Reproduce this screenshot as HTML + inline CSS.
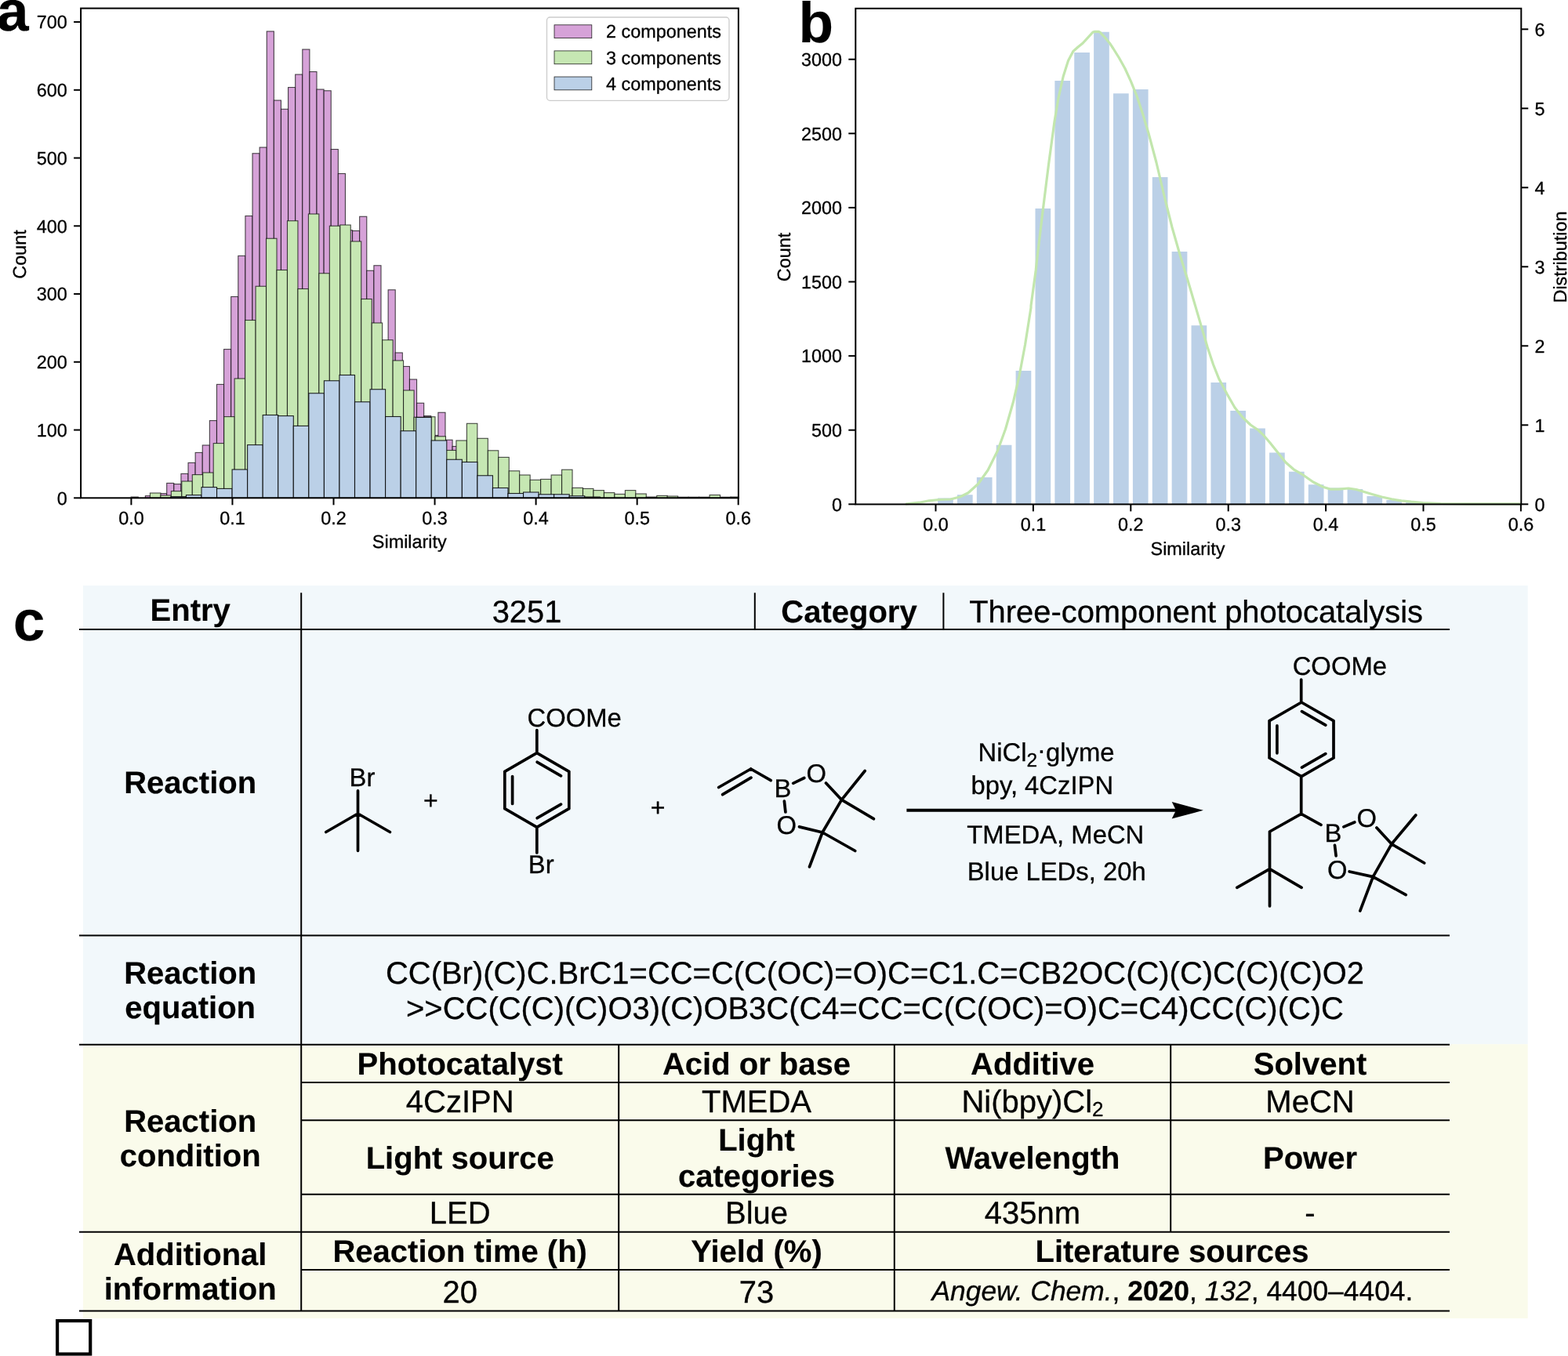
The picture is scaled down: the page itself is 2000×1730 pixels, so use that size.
<!DOCTYPE html>
<html><head><meta charset="utf-8"><title>Figure</title>
<style>
html,body{margin:0;padding:0;background:#fff;}
svg{display:block;font-family:"Liberation Sans", sans-serif;}
text{fill:#000;text-rendering:geometricPrecision;stroke:#000;stroke-width:0.3px;stroke-linejoin:round;}
text.b{font-weight:bold;stroke-width:0.15px;}
.pl text{font-weight:bold;stroke-width:0.1px;}
tspan.b{font-weight:bold;}
tspan.i{font-style:italic;}
</style></head>
<body>
<svg width="2000" height="1730" viewBox="0 0 2000 1730">
<rect width="2000" height="1730" fill="#fff"/>
<g id="panelA">
<g fill="#D6A2D8" stroke="#000" stroke-width="1.1" stroke-opacity="0.7"><rect x="167.15" y="634.00" width="9.11" height="1.30"/><rect x="185.37" y="632.60" width="9.11" height="2.70"/><rect x="194.48" y="632.00" width="9.11" height="3.30"/><rect x="203.59" y="629.60" width="9.11" height="5.70"/><rect x="212.70" y="616.40" width="9.11" height="18.90"/><rect x="221.81" y="617.60" width="9.11" height="17.70"/><rect x="230.92" y="604.40" width="9.11" height="30.90"/><rect x="240.03" y="590.40" width="9.11" height="44.90"/><rect x="249.14" y="577.40" width="9.11" height="57.90"/><rect x="258.25" y="568.00" width="9.11" height="67.30"/><rect x="267.36" y="536.60" width="9.11" height="98.70"/><rect x="276.47" y="490.40" width="9.11" height="144.90"/><rect x="285.58" y="445.60" width="9.11" height="189.70"/><rect x="294.69" y="378.50" width="9.11" height="256.80"/><rect x="303.80" y="326.40" width="9.11" height="308.90"/><rect x="312.91" y="275.50" width="9.11" height="359.80"/><rect x="322.02" y="195.75" width="9.11" height="439.55"/><rect x="331.13" y="188.00" width="9.11" height="447.30"/><rect x="340.24" y="40.00" width="9.11" height="595.30"/><rect x="349.35" y="128.00" width="9.11" height="507.30"/><rect x="358.46" y="139.25" width="9.11" height="496.05"/><rect x="367.57" y="111.50" width="9.11" height="523.80"/><rect x="376.68" y="95.00" width="9.11" height="540.30"/><rect x="385.79" y="63.00" width="9.11" height="572.30"/><rect x="394.90" y="91.50" width="9.11" height="543.80"/><rect x="404.01" y="114.00" width="9.11" height="521.30"/><rect x="413.12" y="115.75" width="9.11" height="519.55"/><rect x="422.23" y="190.50" width="9.11" height="444.80"/><rect x="431.34" y="221.50" width="9.11" height="413.80"/><rect x="440.45" y="293.75" width="9.11" height="341.55"/><rect x="449.56" y="294.50" width="9.11" height="340.80"/><rect x="458.67" y="276.25" width="9.11" height="359.05"/><rect x="467.78" y="345.25" width="9.11" height="290.05"/><rect x="476.89" y="338.75" width="9.11" height="296.55"/><rect x="486.00" y="440.00" width="9.11" height="195.30"/><rect x="495.11" y="369.80" width="9.11" height="265.50"/><rect x="504.22" y="450.00" width="9.11" height="185.30"/><rect x="513.33" y="467.50" width="9.11" height="167.80"/><rect x="522.44" y="484.00" width="9.11" height="151.30"/><rect x="531.55" y="514.25" width="9.11" height="121.05"/><rect x="540.66" y="530.60" width="9.11" height="104.70"/><rect x="549.77" y="555.40" width="9.11" height="79.90"/><rect x="558.88" y="526.25" width="9.11" height="109.05"/><rect x="567.99" y="561.25" width="9.11" height="74.05"/><rect x="577.10" y="569.50" width="9.11" height="65.80"/></g><g fill="#C6E7B3" stroke="#000" stroke-width="1.1" stroke-opacity="0.7"><rect x="191.43" y="629.00" width="13.47" height="6.30"/><rect x="204.90" y="632.00" width="13.47" height="3.30"/><rect x="218.36" y="626.60" width="13.47" height="8.70"/><rect x="231.82" y="614.00" width="13.47" height="21.30"/><rect x="245.29" y="605.60" width="13.46" height="29.70"/><rect x="258.75" y="603.00" width="13.46" height="32.30"/><rect x="272.22" y="565.60" width="13.46" height="69.70"/><rect x="285.69" y="531.60" width="13.46" height="103.70"/><rect x="299.15" y="483.00" width="13.46" height="152.30"/><rect x="312.62" y="408.50" width="13.46" height="226.80"/><rect x="326.08" y="365.25" width="13.46" height="270.05"/><rect x="339.55" y="304.25" width="13.46" height="331.05"/><rect x="353.01" y="344.50" width="13.46" height="290.80"/><rect x="366.48" y="281.75" width="13.46" height="353.55"/><rect x="379.94" y="368.50" width="13.46" height="266.80"/><rect x="393.40" y="273.00" width="13.46" height="362.30"/><rect x="406.87" y="348.75" width="13.46" height="286.55"/><rect x="420.34" y="288.25" width="13.46" height="347.05"/><rect x="433.80" y="287.00" width="13.46" height="348.30"/><rect x="447.26" y="308.00" width="13.46" height="327.30"/><rect x="460.73" y="381.50" width="13.46" height="253.80"/><rect x="474.19" y="412.00" width="13.46" height="223.30"/><rect x="487.66" y="433.75" width="13.46" height="201.55"/><rect x="501.12" y="460.00" width="13.47" height="175.30"/><rect x="514.59" y="498.00" width="13.47" height="137.30"/><rect x="528.06" y="532.30" width="13.47" height="103.00"/><rect x="541.52" y="531.75" width="13.47" height="103.55"/><rect x="554.99" y="556.75" width="13.47" height="78.55"/><rect x="568.45" y="574.50" width="13.47" height="60.80"/><rect x="581.91" y="562.00" width="13.47" height="73.30"/><rect x="595.38" y="540.30" width="13.47" height="95.00"/><rect x="608.85" y="559.30" width="13.47" height="76.00"/><rect x="622.31" y="574.80" width="13.47" height="60.50"/><rect x="635.77" y="583.40" width="13.47" height="51.90"/><rect x="649.24" y="600.80" width="13.47" height="34.50"/><rect x="662.70" y="606.00" width="13.47" height="29.30"/><rect x="676.17" y="612.30" width="13.47" height="23.00"/><rect x="689.63" y="611.40" width="13.47" height="23.90"/><rect x="703.10" y="606.00" width="13.47" height="29.30"/><rect x="716.57" y="599.20" width="13.47" height="36.10"/><rect x="730.03" y="622.40" width="13.47" height="12.90"/><rect x="743.49" y="623.40" width="13.47" height="11.90"/><rect x="756.96" y="625.60" width="13.47" height="9.70"/><rect x="770.42" y="628.60" width="13.47" height="6.70"/><rect x="783.89" y="630.40" width="13.47" height="4.90"/><rect x="797.36" y="625.60" width="13.47" height="9.70"/><rect x="810.82" y="630.00" width="13.47" height="5.30"/><rect x="824.29" y="634.00" width="13.47" height="1.30"/><rect x="837.75" y="632.40" width="13.47" height="2.90"/><rect x="851.21" y="633.00" width="13.47" height="2.30"/><rect x="864.68" y="634.20" width="13.47" height="1.10"/><rect x="878.14" y="634.20" width="13.47" height="1.10"/><rect x="891.61" y="634.20" width="13.47" height="1.10"/><rect x="905.08" y="631.50" width="13.47" height="3.80"/><rect x="918.54" y="634.20" width="13.47" height="1.10"/><rect x="932.01" y="634.00" width="9.89" height="1.30"/></g><g fill="#BBD0E7" stroke="#000" stroke-width="1.1" stroke-opacity="0.85"><rect x="217.90" y="633.60" width="19.55" height="1.70"/><rect x="237.45" y="631.60" width="19.55" height="3.70"/><rect x="257.00" y="621.60" width="19.55" height="13.70"/><rect x="276.55" y="623.40" width="19.55" height="11.90"/><rect x="296.10" y="599.00" width="19.55" height="36.30"/><rect x="315.65" y="567.60" width="19.55" height="67.70"/><rect x="335.20" y="529.50" width="19.55" height="105.80"/><rect x="354.75" y="530.60" width="19.55" height="104.70"/><rect x="374.30" y="543.40" width="19.55" height="91.90"/><rect x="393.85" y="501.75" width="19.55" height="133.55"/><rect x="413.40" y="485.75" width="19.55" height="149.55"/><rect x="432.95" y="478.50" width="19.55" height="156.80"/><rect x="452.50" y="512.75" width="19.55" height="122.55"/><rect x="472.05" y="496.75" width="19.55" height="138.55"/><rect x="491.60" y="531.50" width="19.55" height="103.80"/><rect x="511.15" y="549.75" width="19.55" height="85.55"/><rect x="530.70" y="532.50" width="19.55" height="102.80"/><rect x="550.25" y="562.00" width="19.55" height="73.30"/><rect x="569.80" y="586.25" width="19.55" height="49.05"/><rect x="589.35" y="589.50" width="19.55" height="45.80"/><rect x="608.90" y="606.75" width="19.55" height="28.55"/><rect x="628.45" y="622.50" width="19.55" height="12.80"/><rect x="648.00" y="629.50" width="19.55" height="5.80"/><rect x="667.55" y="628.00" width="19.55" height="7.30"/><rect x="687.10" y="630.75" width="19.55" height="4.55"/><rect x="706.65" y="630.75" width="19.55" height="4.55"/><rect x="726.20" y="632.75" width="19.55" height="2.55"/><rect x="745.75" y="634.00" width="19.55" height="1.30"/></g>
<rect x="103.1" y="10.6" width="838.8" height="624.6999999999999" fill="none" stroke="#000" stroke-width="2"/>
<line x1="94.1" y1="635.3" x2="103.1" y2="635.3" stroke="#000" stroke-width="2"/>
<text x="85.8" y="643.6" font-size="23.4" text-anchor="end">0</text>
<line x1="94.1" y1="548.55" x2="103.1" y2="548.55" stroke="#000" stroke-width="2"/>
<text x="85.8" y="556.9" font-size="23.4" text-anchor="end">100</text>
<line x1="94.1" y1="461.79999999999995" x2="103.1" y2="461.79999999999995" stroke="#000" stroke-width="2"/>
<text x="85.8" y="470.1" font-size="23.4" text-anchor="end">200</text>
<line x1="94.1" y1="375.04999999999995" x2="103.1" y2="375.04999999999995" stroke="#000" stroke-width="2"/>
<text x="85.8" y="383.4" font-size="23.4" text-anchor="end">300</text>
<line x1="94.1" y1="288.29999999999995" x2="103.1" y2="288.29999999999995" stroke="#000" stroke-width="2"/>
<text x="85.8" y="296.6" font-size="23.4" text-anchor="end">400</text>
<line x1="94.1" y1="201.54999999999995" x2="103.1" y2="201.54999999999995" stroke="#000" stroke-width="2"/>
<text x="85.8" y="209.9" font-size="23.4" text-anchor="end">500</text>
<line x1="94.1" y1="114.79999999999995" x2="103.1" y2="114.79999999999995" stroke="#000" stroke-width="2"/>
<text x="85.8" y="123.1" font-size="23.4" text-anchor="end">600</text>
<line x1="94.1" y1="28.049999999999955" x2="103.1" y2="28.049999999999955" stroke="#000" stroke-width="2"/>
<text x="85.8" y="36.4" font-size="23.4" text-anchor="end">700</text>
<line x1="167.40" y1="635.3" x2="167.40" y2="644.3" stroke="#000" stroke-width="2"/>
<text x="167.40" y="668.5" font-size="23.4" text-anchor="middle">0.0</text>
<line x1="296.45" y1="635.3" x2="296.45" y2="644.3" stroke="#000" stroke-width="2"/>
<text x="296.45" y="668.5" font-size="23.4" text-anchor="middle">0.1</text>
<line x1="425.50" y1="635.3" x2="425.50" y2="644.3" stroke="#000" stroke-width="2"/>
<text x="425.50" y="668.5" font-size="23.4" text-anchor="middle">0.2</text>
<line x1="554.55" y1="635.3" x2="554.55" y2="644.3" stroke="#000" stroke-width="2"/>
<text x="554.55" y="668.5" font-size="23.4" text-anchor="middle">0.3</text>
<line x1="683.60" y1="635.3" x2="683.60" y2="644.3" stroke="#000" stroke-width="2"/>
<text x="683.60" y="668.5" font-size="23.4" text-anchor="middle">0.4</text>
<line x1="812.65" y1="635.3" x2="812.65" y2="644.3" stroke="#000" stroke-width="2"/>
<text x="812.65" y="668.5" font-size="23.4" text-anchor="middle">0.5</text>
<line x1="941.70" y1="635.3" x2="941.70" y2="644.3" stroke="#000" stroke-width="2"/>
<text x="941.70" y="668.5" font-size="23.4" text-anchor="middle">0.6</text>
<text x="522.3" y="699.3" font-size="23.4" text-anchor="middle">Similarity</text>
<text transform="translate(33.3,324.5) rotate(-90)" font-size="23.4" text-anchor="middle">Count</text>
<rect x="697.5" y="22" width="232.5" height="106.3" rx="4" ry="4" fill="#fff" fill-opacity="0.8" stroke="#ccc" stroke-width="1.3"/>
<rect x="707" y="31.8" width="47.8" height="16.8" fill="#D6A2D8" stroke="#000" stroke-width="0.8" stroke-opacity="0.85"/>
<text x="773" y="48.4" font-size="23.4">2 components</text>
<rect x="707" y="64.9" width="47.8" height="16.8" fill="#C6E7B3" stroke="#000" stroke-width="0.8" stroke-opacity="0.85"/>
<text x="773" y="81.5" font-size="23.4">3 components</text>
<rect x="707" y="98.0" width="47.8" height="16.8" fill="#BBD0E7" stroke="#000" stroke-width="0.8" stroke-opacity="0.85"/>
<text x="773" y="114.6" font-size="23.4">4 components</text>
</g>
<g id="panelB">
<g fill="#BBD0E7"><rect x="1196.09" y="635.50" width="19.7" height="7.90"/><rect x="1220.97" y="631.25" width="19.7" height="12.15"/><rect x="1245.85" y="609.00" width="19.7" height="34.40"/><rect x="1270.73" y="567.75" width="19.7" height="75.65"/><rect x="1295.61" y="473.00" width="19.7" height="170.40"/><rect x="1320.49" y="266.00" width="19.7" height="377.40"/><rect x="1345.37" y="103.00" width="19.7" height="540.40"/><rect x="1370.25" y="67.00" width="19.7" height="576.40"/><rect x="1395.13" y="40.75" width="19.7" height="602.65"/><rect x="1420.01" y="119.25" width="19.7" height="524.15"/><rect x="1444.89" y="114.00" width="19.7" height="529.40"/><rect x="1469.77" y="226.00" width="19.7" height="417.40"/><rect x="1494.65" y="321.00" width="19.7" height="322.40"/><rect x="1519.53" y="415.20" width="19.7" height="228.20"/><rect x="1544.41" y="488.00" width="19.7" height="155.40"/><rect x="1569.29" y="524.00" width="19.7" height="119.40"/><rect x="1594.17" y="546.50" width="19.7" height="96.90"/><rect x="1619.05" y="577.50" width="19.7" height="65.90"/><rect x="1643.93" y="601.75" width="19.7" height="41.65"/><rect x="1668.81" y="618.25" width="19.7" height="25.15"/><rect x="1693.69" y="622.50" width="19.7" height="20.90"/><rect x="1718.57" y="624.00" width="19.7" height="19.40"/><rect x="1743.45" y="633.00" width="19.7" height="10.40"/><rect x="1768.33" y="638.00" width="19.7" height="5.40"/><rect x="1793.21" y="640.50" width="19.7" height="2.90"/><rect x="1818.09" y="641.75" width="19.7" height="1.65"/><rect x="1842.97" y="642.40" width="19.7" height="1.00"/><rect x="1867.85" y="642.70" width="19.7" height="0.70"/></g>
<path d="M1155.0,643.0 L1172.5,641.2 L1185.0,638.8 L1197.5,637.5 L1212.5,637.0 L1225.0,633.8 L1235.0,628.8 L1247.5,617.5 L1260.0,600.0 L1272.5,575.0 L1282.5,547.5 L1292.5,512.5 L1300.0,480.0 L1307.5,440.0 L1315.0,392.5 L1315.0,390.0 L1321.2,345.0 L1322.5,332.5 L1330.0,270.0 L1337.5,210.0 L1345.0,155.0 L1350.0,125.0 L1356.2,97.5 L1362.5,77.5 L1368.8,65.5 L1375.0,60.0 L1381.2,55.0 L1387.5,48.2 L1394.0,41.0 L1395.8,40.4 L1401.5,40.4 L1403.0,41.2 L1407.5,45.8 L1412.0,50.9 L1415.5,55.2 L1420.0,62.0 L1427.5,74.0 L1435.0,87.5 L1442.5,103.8 L1450.0,122.5 L1457.5,145.0 L1465.0,170.0 L1475.0,207.5 L1485.0,250.0 L1495.0,290.0 L1505.0,325.0 L1515.0,357.5 L1540.0,442.5 L1547.5,465.0 L1555.0,483.8 L1565.0,502.5 L1575.0,520.0 L1585.0,532.5 L1595.0,542.0 L1605.0,548.8 L1612.5,556.2 L1620.0,565.0 L1630.0,577.5 L1640.0,590.0 L1650.0,598.8 L1662.5,606.2 L1675.0,615.0 L1687.5,621.2 L1697.5,624.2 L1707.5,624.2 L1720.0,623.0 L1730.0,624.5 L1740.0,627.5 L1750.0,630.5 L1762.5,634.0 L1775.0,636.8 L1787.5,638.8 L1800.0,640.2 L1815.0,641.5 L1837.5,642.5 L1875.0,642.8 L1940.5,642.8" fill="none" stroke="#C2E6AD" stroke-width="3.2" stroke-linejoin="round"/>
<rect x="1091.3" y="10.8" width="849.0" height="632.6" fill="none" stroke="#000" stroke-width="2"/>
<line x1="1082.3" y1="643.30" x2="1091.3" y2="643.30" stroke="#000" stroke-width="2"/>
<text x="1074" y="651.6" font-size="23.4" text-anchor="end">0</text>
<line x1="1082.3" y1="548.70" x2="1091.3" y2="548.70" stroke="#000" stroke-width="2"/>
<text x="1074" y="557.0" font-size="23.4" text-anchor="end">500</text>
<line x1="1082.3" y1="454.10" x2="1091.3" y2="454.10" stroke="#000" stroke-width="2"/>
<text x="1074" y="462.4" font-size="23.4" text-anchor="end">1000</text>
<line x1="1082.3" y1="359.50" x2="1091.3" y2="359.50" stroke="#000" stroke-width="2"/>
<text x="1074" y="367.9" font-size="23.4" text-anchor="end">1500</text>
<line x1="1082.3" y1="264.90" x2="1091.3" y2="264.90" stroke="#000" stroke-width="2"/>
<text x="1074" y="273.2" font-size="23.4" text-anchor="end">2000</text>
<line x1="1082.3" y1="170.30" x2="1091.3" y2="170.30" stroke="#000" stroke-width="2"/>
<text x="1074" y="178.6" font-size="23.4" text-anchor="end">2500</text>
<line x1="1082.3" y1="75.70" x2="1091.3" y2="75.70" stroke="#000" stroke-width="2"/>
<text x="1074" y="84.1" font-size="23.4" text-anchor="end">3000</text>
<line x1="1940.3" y1="643.30" x2="1949.3" y2="643.30" stroke="#000" stroke-width="2"/>
<text x="1957.5" y="651.6" font-size="23.4">0</text>
<line x1="1940.3" y1="542.30" x2="1949.3" y2="542.30" stroke="#000" stroke-width="2"/>
<text x="1957.5" y="550.6" font-size="23.4">1</text>
<line x1="1940.3" y1="441.30" x2="1949.3" y2="441.30" stroke="#000" stroke-width="2"/>
<text x="1957.5" y="449.6" font-size="23.4">2</text>
<line x1="1940.3" y1="340.30" x2="1949.3" y2="340.30" stroke="#000" stroke-width="2"/>
<text x="1957.5" y="348.6" font-size="23.4">3</text>
<line x1="1940.3" y1="239.30" x2="1949.3" y2="239.30" stroke="#000" stroke-width="2"/>
<text x="1957.5" y="247.6" font-size="23.4">4</text>
<line x1="1940.3" y1="138.30" x2="1949.3" y2="138.30" stroke="#000" stroke-width="2"/>
<text x="1957.5" y="146.6" font-size="23.4">5</text>
<line x1="1940.3" y1="37.30" x2="1949.3" y2="37.30" stroke="#000" stroke-width="2"/>
<text x="1957.5" y="45.6" font-size="23.4">6</text>
<line x1="1193.50" y1="643.4" x2="1193.50" y2="652.4" stroke="#000" stroke-width="2"/>
<text x="1193.50" y="677" font-size="23.4" text-anchor="middle">0.0</text>
<line x1="1317.90" y1="643.4" x2="1317.90" y2="652.4" stroke="#000" stroke-width="2"/>
<text x="1317.90" y="677" font-size="23.4" text-anchor="middle">0.1</text>
<line x1="1442.30" y1="643.4" x2="1442.30" y2="652.4" stroke="#000" stroke-width="2"/>
<text x="1442.30" y="677" font-size="23.4" text-anchor="middle">0.2</text>
<line x1="1566.70" y1="643.4" x2="1566.70" y2="652.4" stroke="#000" stroke-width="2"/>
<text x="1566.70" y="677" font-size="23.4" text-anchor="middle">0.3</text>
<line x1="1691.10" y1="643.4" x2="1691.10" y2="652.4" stroke="#000" stroke-width="2"/>
<text x="1691.10" y="677" font-size="23.4" text-anchor="middle">0.4</text>
<line x1="1815.50" y1="643.4" x2="1815.50" y2="652.4" stroke="#000" stroke-width="2"/>
<text x="1815.50" y="677" font-size="23.4" text-anchor="middle">0.5</text>
<line x1="1939.90" y1="643.4" x2="1939.90" y2="652.4" stroke="#000" stroke-width="2"/>
<text x="1939.90" y="677" font-size="23.4" text-anchor="middle">0.6</text>
<text x="1515" y="708" font-size="23.4" text-anchor="middle">Similarity</text>
<text transform="translate(1008,328) rotate(-90)" font-size="23.4" text-anchor="middle">Count</text>
<text transform="translate(1998,328) rotate(-90)" font-size="23.4" text-anchor="middle">Distribution</text>
</g>
<g class="pl">
<text x="-3.9" y="39.0" font-size="73">a</text>
<text x="1018.4" y="54" font-size="73">b</text>
<text x="16.8" y="817" font-size="73">c</text>
</g>
<g id="panelC">
<rect x="106" y="747" width="1842.7" height="585.2" fill="#F2F8FB"/>
<rect x="106" y="1332.2" width="1842.7" height="349.8" fill="#FAFBEB"/>
<g stroke="#000" stroke-width="2">
<line x1="101" y1="803" x2="1849" y2="803"/>
<line x1="101" y1="1193.4" x2="1849" y2="1193.4"/>
<line x1="101" y1="1332.8" x2="1849" y2="1332.8"/>
<line x1="384" y1="1381" x2="1849" y2="1381"/>
<line x1="384" y1="1429.3" x2="1849" y2="1429.3"/>
<line x1="384" y1="1523.8" x2="1849" y2="1523.8"/>
<line x1="101" y1="1571.8" x2="1849" y2="1571.8"/>
<line x1="384" y1="1620" x2="1849" y2="1620"/>
<line x1="101" y1="1672.6" x2="1849" y2="1672.6"/>
<line x1="384.2" y1="756.3" x2="384.2" y2="1672.6"/>
<line x1="962.8" y1="756.3" x2="962.8" y2="803"/>
<line x1="1203.4" y1="756.3" x2="1203.4" y2="803"/>
<line x1="789.2" y1="1332.8" x2="789.2" y2="1672.6"/>
<line x1="1140.8" y1="1332.8" x2="1140.8" y2="1672.6"/>
<line x1="1493.2" y1="1332.8" x2="1493.2" y2="1571.8"/>
</g>
<text x="242.7" y="792.3" font-size="40" text-anchor="middle" class="b">Entry</text>
<text x="672" y="794" font-size="39.9" text-anchor="middle">3251</text>
<text x="1083" y="794" font-size="40" text-anchor="middle" class="b">Category</text>
<text x="1525.6" y="794" font-size="39.9" text-anchor="middle">Three-component photocatalysis</text>
<text x="242.7" y="1012" font-size="40" text-anchor="middle" class="b">Reaction</text>
<text x="242.7" y="1254.5" font-size="40" text-anchor="middle" class="b">Reaction</text>
<text x="242.7" y="1298.7" font-size="40" text-anchor="middle" class="b">equation</text>
<text x="1116" y="1254.5" font-size="39.95" text-anchor="middle">CC(Br)(C)C.BrC1=CC=C(C(OC)=O)C=C1.C=CB2OC(C)(C)C(C)(C)O2</text>
<text x="1116" y="1300" font-size="39.95" text-anchor="middle">&gt;&gt;CC(C(C)(C)O3)(C)OB3C(C4=CC=C(C(OC)=O)C=C4)CC(C)(C)C</text>
<text x="242.7" y="1443.7" font-size="40" text-anchor="middle" class="b">Reaction</text>
<text x="242.7" y="1487.7" font-size="40" text-anchor="middle" class="b">condition</text>
<text x="242.7" y="1613.6" font-size="40" text-anchor="middle" class="b">Additional</text>
<text x="242.7" y="1657.8" font-size="40" text-anchor="middle" class="b">information</text>
<text x="586.7" y="1371.2" font-size="40" text-anchor="middle" class="b">Photocatalyst</text>
<text x="965" y="1371.2" font-size="40" text-anchor="middle" class="b">Acid or base</text>
<text x="1317" y="1371.2" font-size="40" text-anchor="middle" class="b">Additive</text>
<text x="1671" y="1371.2" font-size="40" text-anchor="middle" class="b">Solvent</text>
<text x="586.7" y="1419.2" font-size="40" text-anchor="middle">4CzIPN</text>
<text x="965" y="1419.2" font-size="40" text-anchor="middle">TMEDA</text>
<text x="1317" y="1419.2" font-size="40" text-anchor="middle">Ni(bpy)Cl<tspan font-size="26" dy="5">2</tspan></text>
<text x="1671" y="1419.2" font-size="40" text-anchor="middle">MeCN</text>
<text x="586.7" y="1490.8" font-size="40" text-anchor="middle" class="b">Light source</text>
<text x="965" y="1468" font-size="40" text-anchor="middle" class="b">Light</text>
<text x="965" y="1513.6" font-size="40" text-anchor="middle" class="b">categories</text>
<text x="1317" y="1490.8" font-size="40" text-anchor="middle" class="b">Wavelength</text>
<text x="1671" y="1490.8" font-size="40" text-anchor="middle" class="b">Power</text>
<text x="586.7" y="1561.2" font-size="40" text-anchor="middle">LED</text>
<text x="965" y="1561.2" font-size="40" text-anchor="middle">Blue</text>
<text x="1317" y="1561.2" font-size="40" text-anchor="middle">435nm</text>
<text x="1671" y="1561.2" font-size="40" text-anchor="middle">-</text>
<text x="586.7" y="1610" font-size="40" text-anchor="middle" class="b">Reaction time (h)</text>
<text x="965" y="1610" font-size="40" text-anchor="middle" class="b">Yield (%)</text>
<text x="1495" y="1610" font-size="40" text-anchor="middle" class="b">Literature sources</text>
<text x="586.7" y="1662" font-size="40" text-anchor="middle">20</text>
<text x="965" y="1662" font-size="40" text-anchor="middle">73</text>
<text x="1495.4" y="1659" font-size="35.4" text-anchor="middle"><tspan class="i">Angew. Chem.</tspan>, <tspan class="b">2020</tspan>, <tspan class="i">132</tspan>, 4400–4404.</text>
<path d="M456.5,1008.8L456.5,1085.3M456.5,1038.0L415.8,1061.5M456.5,1038.0L497.4,1061.5M684.8,960.7L725.8,984.4M725.8,984.4L725.8,1031.7M725.8,1031.7L684.8,1055.3M684.8,1055.3L643.8,1031.7M643.8,1031.7L643.8,984.4M643.8,984.4L684.8,960.7M685.2,972.3L715.5,989.8M715.5,1026.2L685.2,1043.7M653.6,1025.5L653.6,990.5M684.8,931.5L684.8,960.7M684.8,1055.3L684.8,1088.0M916.7,1004.5L957.7,981.0M921.7,1013.7L958.0,992.2M957.7,981.0L983.2,995.7M1011.7,999.3L1025.8,992.5M1000.4,1022.2L1001.9,1036.0M1053.5,999.0L1073.5,1020.4M1073.5,1020.4L1049.0,1062.0M1019.5,1054.9L1049.0,1062.0M1073.5,1020.4L1103.2,983.5M1073.5,1020.4L1114.4,1044.7M1049.0,1062.0L1090.7,1085.5M1049.0,1062.0L1032.5,1105.9M1660.0,896.0L1701.0,919.7M1701.0,919.7L1701.0,967.0M1701.0,967.0L1660.0,990.6M1660.0,990.6L1619.1,967.0M1619.1,967.0L1619.1,919.7M1619.1,919.7L1660.0,896.0M1660.5,907.6L1690.8,925.1M1690.8,961.6L1660.5,979.1M1628.9,960.8L1628.9,925.8M1659.7,867.1L1659.7,896.3M1659.7,990.5L1659.7,1038.4M1659.7,1038.4L1619.5,1061.0M1619.5,1061.0L1619.5,1108.7M1619.5,1108.7L1577.8,1132.4M1619.5,1108.7L1660.1,1132.4M1619.5,1108.7L1619.5,1155.9M1659.7,1038.4L1685.0,1052.3M1713.9,1054.9L1727.8,1049.0M1702.5,1078.4L1704.1,1091.8M1755.9,1056.0L1775.0,1076.8M1775.0,1076.8L1751.3,1118.6M1721.2,1112.0L1751.3,1118.6M1775.0,1076.8L1805.8,1040.0M1775.0,1076.8L1816.7,1101.0M1751.3,1118.6L1793.2,1141.6M1751.3,1118.6L1734.8,1162.1" fill="none" stroke="#000" stroke-width="3.7" stroke-linecap="round" stroke-linejoin="round"/>
<line x1="1156.4" y1="1033.8" x2="1505" y2="1033.8" stroke="#000" stroke-width="3.9"/>
<path d="M1534.9,1033.8 L1494.7,1023.1 L1500,1033.8 L1494.7,1044.4 Z" fill="#000"/>
<text x="445.6" y="1003.3" font-size="32.8" text-anchor="start">Br</text>
<text x="672.6" y="926.6" font-size="32.8" text-anchor="start">COOMe</text>
<text x="673.8" y="1114.2" font-size="32.8" text-anchor="start">Br</text>
<text x="549.4" y="1032.3" font-size="32" text-anchor="middle">+</text>
<text x="839.0" y="1040.7" font-size="32" text-anchor="middle">+</text>
<text x="998.5" y="1017.4" font-size="32.8" text-anchor="middle">B</text>
<text x="1041.2" y="998.2" font-size="32.8" text-anchor="middle">O</text>
<text x="1003.3" y="1064.0" font-size="32.8" text-anchor="middle">O</text>
<text x="1648.7" y="861.0" font-size="32.8" text-anchor="start">COOMe</text>
<text x="1700.5" y="1073.6" font-size="32.8" text-anchor="middle">B</text>
<text x="1743.2" y="1054.7" font-size="32.8" text-anchor="middle">O</text>
<text x="1705.8" y="1120.6" font-size="32.8" text-anchor="middle">O</text>
<text x="1334.5" y="971.0" font-size="32.8" text-anchor="middle">NiCl<tspan font-size="24.5" dy="7">2</tspan><tspan dy="-10.5">·</tspan><tspan dy="3.5">glyme</tspan></text>
<text x="1329.3" y="1013.3" font-size="32.8" text-anchor="middle">bpy, 4CzIPN</text>
<text x="1346.3" y="1076.4" font-size="32.8" text-anchor="middle">TMEDA, MeCN</text>
<text x="1347.7" y="1123.3" font-size="32.8" text-anchor="middle">Blue LEDs, 20h</text>
</g>
<rect x="73.1" y="1685.1" width="42.1" height="42.4" fill="#fff" stroke="#000" stroke-width="4.2"/>
</svg>
</body></html>
